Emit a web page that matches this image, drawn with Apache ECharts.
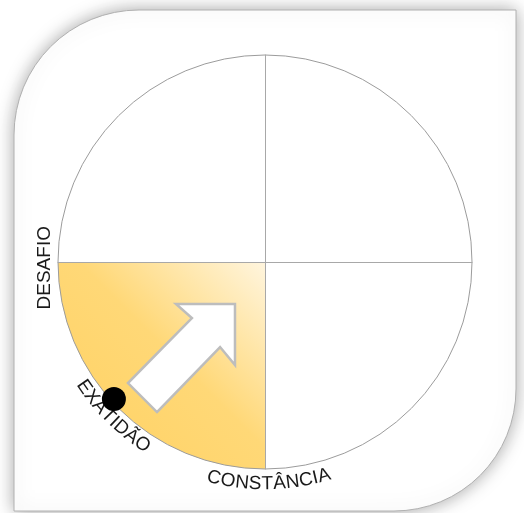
<!DOCTYPE html>
<html>
<head>
<meta charset="utf-8">
<script src="https://cdn.jsdelivr.net/npm/echarts@6/dist/echarts.min.js"></script>
<style>
html, body { margin: 0; padding: 0; background: #fff; }
#chart { width: 524px; height: 513px; }
</style>
</head>
<body>
<div id="chart"></div>
<script>
// labels round the circle
const labelNames = ['DESAFIO', 'EXATIDÃO', 'CONSTÂNCIA'];
const labelAngles = [181.5, 225.5, 271];     // degrees, counter-clockwise from the right
const labelRadius = [1.063, 1.062, 1.072];   // in circle radii
const labelCurved = [0, 1, 1];

// highlighted quadrant (angle range, degrees)
const fillAngles = [180, 270];

// arrow outline, in circle radii
const arrowX = [-0.522, -0.217, -0.145, -0.145, -0.430, -0.353, -0.662];
const arrowY = [-0.725, -0.411, -0.498, -0.203, -0.203, -0.271, -0.585];

// current position marker
const dotX = [-0.73];
const dotY = [-0.662];

const FONT = '19px "Liberation Sans", Arial, sans-serif';
const TEXT_COLOR = '#1a1a1a';

const measureCtx = document.createElement('canvas').getContext('2d');
measureCtx.font = FONT;
const charWidth = ch => measureCtx.measureText(ch).width;

const chart = echarts.init(document.getElementById('chart'));

const quadrantFill = new echarts.graphic.LinearGradient(1, 0, 0, 1, [
  { offset: 0, color: '#fff5de' },
  { offset: 0.45, color: '#ffd877' },
  { offset: 1, color: '#ffd160' }
]);

const option = {
  animation: false,
  graphic: [
    {
      type: 'rect',
      z: -10,
      silent: true,
      shape: { x: 14, y: 10, width: 502, height: 501, r: [125, 0, 122, 0] },
      style: {
        fill: '#fff',
        stroke: '#b0b0b0',
        lineWidth: 1,
        shadowBlur: 18,
        shadowColor: 'rgba(0,0,0,0.35)'
      }
    }
  ],
  grid: { left: 58, top: 55, width: 414, height: 414 },
  xAxis: {
    type: 'value', min: -1, max: 1, z: 5,
    axisLine: { onZero: true, lineStyle: { color: '#a8a8a8', width: 1 } },
    axisTick: { show: false }, axisLabel: { show: false }, splitLine: { show: false }
  },
  yAxis: {
    type: 'value', min: -1, max: 1, z: 5,
    axisLine: { onZero: true, lineStyle: { color: '#a8a8a8', width: 1 } },
    axisTick: { show: false }, axisLabel: { show: false }, splitLine: { show: false }
  },
  polar: { center: [265, 262], radius: 207 },
  angleAxis: {
    type: 'value', min: 0, max: 360, startAngle: 0, clockwise: false, z: 5,
    axisLine: { lineStyle: { color: '#9c9c9c', width: 1 } },
    axisTick: { show: false }, axisLabel: { show: false }, splitLine: { show: false }
  },
  radiusAxis: { min: 0, max: 1, show: false },
  series: [
    {
      // shaded quadrant
      type: 'custom',
      coordinateSystem: 'cartesian2d',
      z: 1,
      silent: true,
      data: [fillAngles],
      renderItem: (params, api) => {
        const c = api.coord([0, 0]);
        const r = api.coord([1, 0])[0] - c[0];
        const a0 = api.value(0) * Math.PI / 180;
        const a1 = api.value(1) * Math.PI / 180;
        return {
          type: 'sector',
          shape: { cx: c[0], cy: c[1], r0: 0, r: r, startAngle: -a1, endAngle: -a0, clockwise: true },
          style: { fill: quadrantFill }
        };
      }
    },
    {
      // arrow
      type: 'custom',
      coordinateSystem: 'cartesian2d',
      z: 6,
      silent: true,
      data: [0],
      renderItem: (params, api) => ({
        type: 'polygon',
        shape: { points: arrowX.map((x, i) => api.coord([x, arrowY[i]])) },
        style: { fill: '#fff', stroke: '#bdbdbd', lineWidth: 2.5, lineJoin: 'miter' }
      })
    },
    {
      // labels
      type: 'custom',
      coordinateSystem: 'cartesian2d',
      z: 7,
      silent: true,
      data: labelNames.map((n, i) => [labelAngles[i], labelRadius[i], labelCurved[i]]),
      renderItem: (params, api) => {
        const text = labelNames[params.dataIndex];
        const ang = api.value(0) * Math.PI / 180;
        const c = api.coord([0, 0]);
        const R = api.coord([api.value(1), 0])[0] - c[0];
        const style = { font: FONT, fill: TEXT_COLOR, align: 'center', verticalAlign: 'middle' };
        if (!api.value(2)) {
          return {
            type: 'text',
            x: c[0] + R * Math.cos(ang),
            y: c[1] - R * Math.sin(ang),
            rotation: Math.PI / 2,
            style: Object.assign({ text: text }, style)
          };
        }
        const chars = Array.from(text);
        const widths = chars.map(charWidth);
        const total = widths.reduce((a, b) => a + b, 0);
        let s = -total / 2;
        const children = chars.map((ch, k) => {
          const mid = s + widths[k] / 2;
          s += widths[k];
          const t = ang + mid / R;
          return {
            type: 'text',
            x: c[0] + R * Math.cos(t),
            y: c[1] - R * Math.sin(t),
            rotation: t - 1.5 * Math.PI,
            style: Object.assign({ text: ch }, style)
          };
        });
        return { type: 'group', children: children };
      }
    },
    {
      // position marker
      type: 'scatter',
      coordinateSystem: 'cartesian2d',
      z: 8,
      silent: true,
      symbol: 'circle',
      symbolSize: 24,
      itemStyle: { color: '#000', opacity: 1 },
      data: dotX.map((x, i) => [x, dotY[i]])
    }
  ]
};

chart.setOption(option);
</script>
</body>
</html>
